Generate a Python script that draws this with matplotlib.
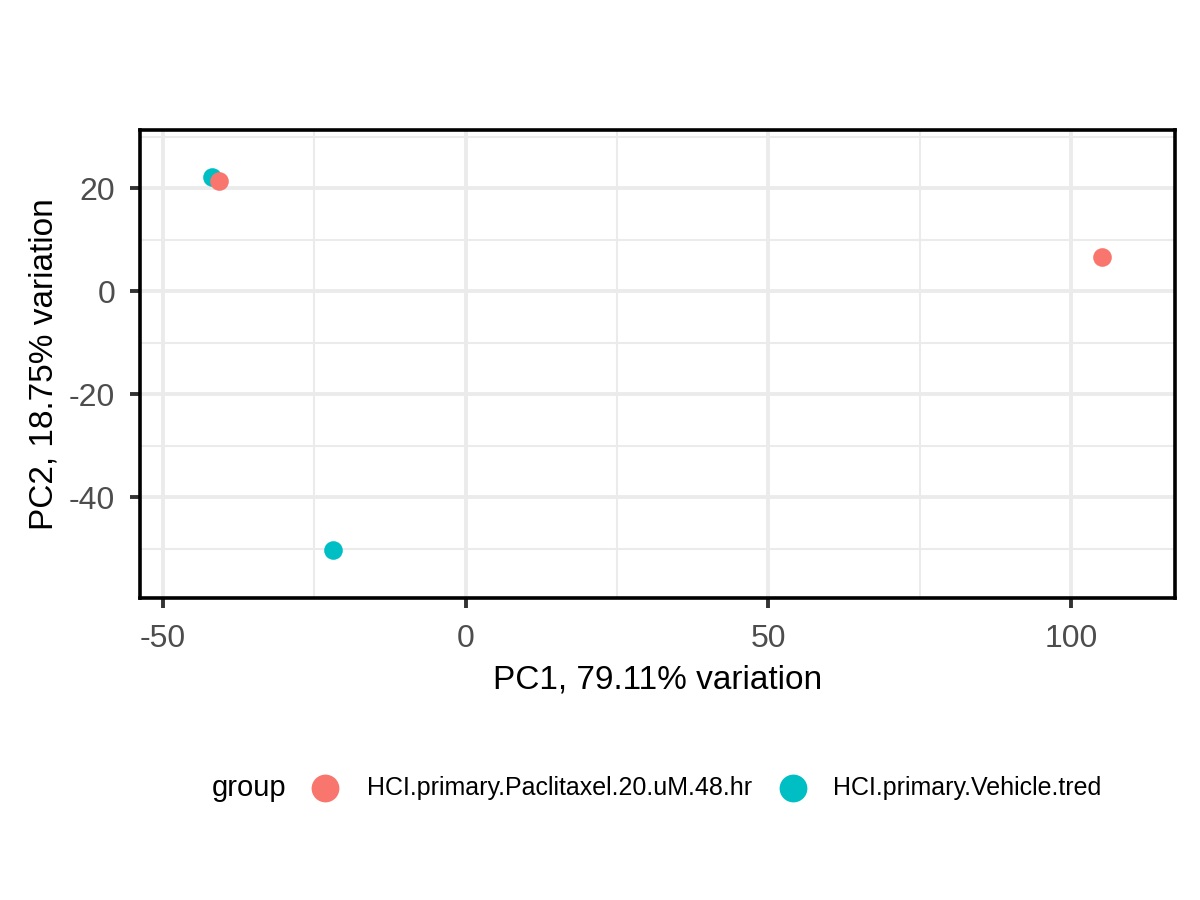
import matplotlib
matplotlib.use("Agg")
import matplotlib.pyplot as plt
from matplotlib.lines import Line2D
from matplotlib.ticker import MultipleLocator

plt.rcParams['font.family'] = ['Liberation Sans', 'DejaVu Sans']

groups = ["HCI.primary.Paclitaxel.20.uM.48.hr", "HCI.primary.Vehicle.tred"]
colors = ["#F8766D", "#00BFC4"]
sample_group = [1, 0, 0, 1]
pc1 = [-41.9, -40.8, 105.1, -21.9]
pc2 = [22.1, 21.4, 6.6, -50.3]
xticks = [-50, 0, 50, 100]
yticks = [-40, -20, 0, 20]

fig = plt.figure(figsize=(12, 9), dpi=100)
ax = fig.add_axes([0.1167, 0.3356, 0.8625, 0.52])

for g, x, y in zip(sample_group, pc1, pc2):
    ax.scatter([x], [y], s=180, color=colors[g], linewidths=0, zorder=3)

ax.set_xlim(-53.8, 117.2)
ax.set_ylim(-59.6, 31.3)
ax.set_xticks(xticks)
ax.set_yticks(yticks)
ax.xaxis.set_minor_locator(MultipleLocator(25))
ax.yaxis.set_minor_locator(MultipleLocator(10))
ax.set_xticklabels([str(t) for t in xticks])
ax.set_yticklabels([str(t) for t in yticks])
ax.grid(True, which='major', color='#EBEBEB', linewidth=2.8, zorder=0)
ax.grid(True, which='minor', color='#EBEBEB', linewidth=1.5, zorder=0)
ax.set_axisbelow(True)
for s in ax.spines.values():
    s.set_linewidth(2.6)
    s.set_color('black')
ax.tick_params(which='major', length=7, width=2.8, color='#333333',
               labelsize=23, labelcolor='#4D4D4D')
ax.tick_params(axis='x', which='major', pad=11.5)
ax.tick_params(axis='y', which='major', pad=11)
ax.tick_params(which='minor', length=0)
ax.set_xlabel("PC1, 79.11% variation", fontsize=24, labelpad=8)
ax.set_ylabel("PC2, 18.75% variation", fontsize=24, labelpad=7)

# legend (bottom, horizontal)
ly = 0.125
fig.text(212 / 1200, ly, "group", fontsize=21, va='center', ha='left')
mx = [325, 793]
tx = [367, 833]
for c, lab, m, t in zip(colors, groups, mx, tx):
    fig.add_artist(Line2D([m / 1200], [ly], transform=fig.transFigure,
                          marker='o', linestyle='none', markersize=20,
                          markerfacecolor=c, markeredgewidth=0))
    fig.text(t / 1200, ly, lab, fontsize=18, va='center', ha='left')

fig.savefig("out.png", dpi=100)
